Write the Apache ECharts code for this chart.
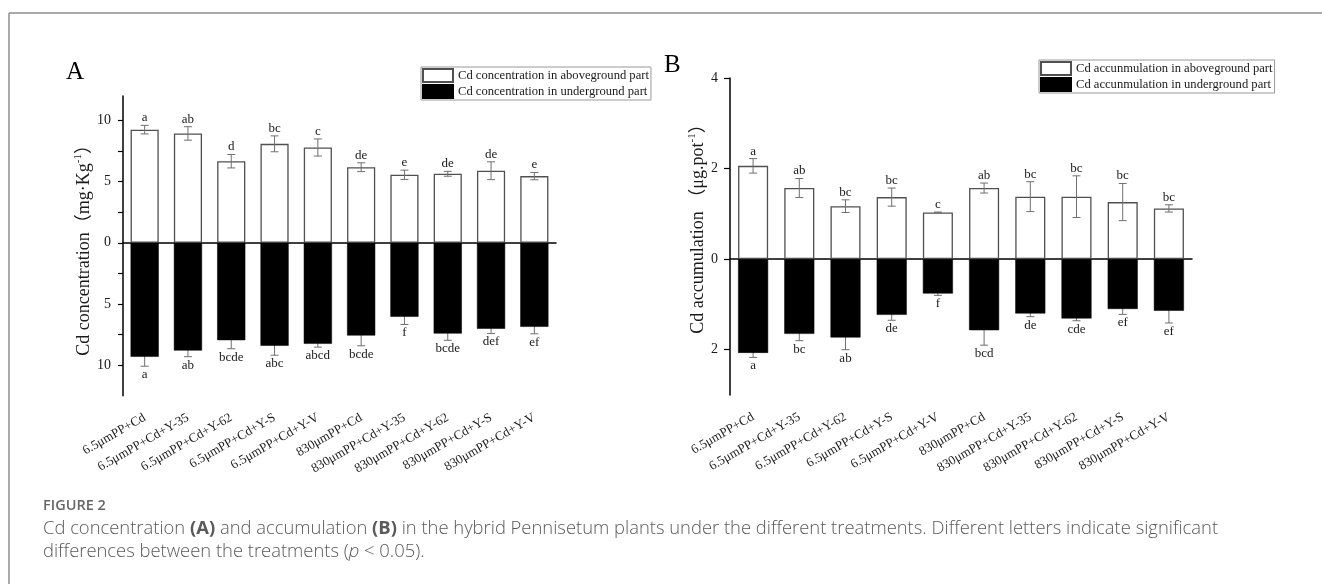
<!DOCTYPE html>
<html><head><meta charset="utf-8">
<script src="https://cdn.jsdelivr.net/npm/echarts@6/dist/echarts.min.js"></script>
<style>html,body{margin:0;padding:0;background:#fff}#c{width:1322px;height:584px}</style>
</head><body><div id="c"></div>
<script>
// ---------- data ----------
const categories = ['6.5μmPP+Cd','6.5μmPP+Cd+Y-35','6.5μmPP+Cd+Y-62','6.5μmPP+Cd+Y-S','6.5μmPP+Cd+Y-V',
                    '830μmPP+Cd','830μmPP+Cd+Y-35','830μmPP+Cd+Y-62','830μmPP+Cd+Y-S','830μmPP+Cd+Y-V'];
const concAbove = [9.25, 8.94, 6.67, 8.09, 7.79, 6.18, 5.56, 5.64, 5.89, 5.45];
const concAboveErr = [0.35, 0.55, 0.55, 0.65, 0.70, 0.36, 0.38, 0.20, 0.73, 0.30];
const concBelow = [9.32, 8.81, 7.96, 8.42, 8.26, 7.58, 6.05, 7.42, 7.03, 6.87];
const concBelowErr = [0.77, 0.50, 0.70, 0.77, 0.27, 0.84, 0.63, 0.55, 0.39, 0.57];
const concAboveLetters = ['a','ab','d','bc','c','de','e','de','de','e'];
const concBelowLetters = ['a','ab','bcde','abc','abcd','bcde','f','bcde','def','ef'];
const accAbove = [2.06, 1.57, 1.17, 1.37, 1.03, 1.57, 1.38, 1.38, 1.26, 1.12];
const accAboveErr = [0.16, 0.21, 0.14, 0.20, 0.01, 0.11, 0.33, 0.46, 0.41, 0.08];
const accBelow = [2.07, 1.65, 1.73, 1.23, 0.76, 1.57, 1.20, 1.31, 1.10, 1.14];
const accBelowErr = [0.10, 0.15, 0.27, 0.12, 0.04, 0.33, 0.07, 0.05, 0.12, 0.27];
const accAboveLetters = ['a','ab','bc','bc','c','ab','bc','bc','bc','bc'];
const accBelowLetters = ['a','bc','ab','de','f','bcd','de','cde','ef','ef'];
const concLabelTicks = [-10, -5, 0, 5, 10];
const concTicks = [-10, -7.5, -5, -2.5, 0, 2.5, 5, 7.5, 10];
const accTicks = [-2, 0, 2, 4];
const legendA = ['Cd concentration in aboveground part', 'Cd concentration in underground part'];
const legendB = ['Cd accunmulation in aboveground part', 'Cd accunmulation in underground part'];

// ---------- helpers ----------
const SERIF = '"Liberation Serif", "Times New Roman", "Noto Sans CJK SC", serif';
const SANS = '"Open Sans", "Noto Sans", sans-serif';
const chart = echarts.init(document.getElementById('c'));

function errSeries(idx, vals, errs, letters, sign, z) {
  return {
    type: 'custom', xAxisIndex: idx, yAxisIndex: idx, z: z, silent: true,
    data: vals.map((v, i) => [i, sign * v, errs[i]]),
    renderItem: function (params, api) {
      const i = api.value(0), v = api.value(1), e = api.value(2);
      const pOut = api.coord([i, v + sign * e]);
      const pIn = api.coord([i, v - sign * e]);
      const x = pOut[0];
      const cap = 4;
      const st = { stroke: '#707070', lineWidth: 1 };
      return {
        type: 'group',
        children: [
          { type: 'line', shape: { x1: x, y1: pOut[1], x2: x, y2: pIn[1] }, style: st },
          { type: 'line', shape: { x1: x - cap, y1: pOut[1], x2: x + cap, y2: pOut[1] }, style: st },
          { type: 'line', shape: { x1: x - cap, y1: pIn[1], x2: x + cap, y2: pIn[1] }, style: st },
          { type: 'text', x: x, y: pOut[1] + (sign > 0 ? -1 : 2),
            style: { text: letters[params.dataIndex], align: 'center',
                     verticalAlign: sign > 0 ? 'bottom' : 'top',
                     font: '13px ' + SERIF, fill: '#1a1a1a' } }
        ]
      };
    }
  };
}

function xAxisCfg(idx) {
  return {
    type: 'category', gridIndex: idx, data: categories, boundaryGap: true,
    axisLine: { lineStyle: { color: '#000', width: 1.5 } },
    axisTick: { alignWithLabel: true, length: 6, lineStyle: { color: '#000', width: 1.2 } },
    axisLabel: { rotate: 30, margin: 21, interval: 0, fontFamily: SERIF, fontSize: 13, color: '#1a1a1a' },
    splitLine: { show: false }
  };
}

const nameRich = {
  a: { fontFamily: SERIF, fontSize: 18, color: '#1a1a1a', lineHeight: 22 },
  s: { fontFamily: SERIF, fontSize: 11, color: '#1a1a1a', lineHeight: 12, verticalAlign: 'top' }
};

const legendCommon = {
  orient: 'vertical', itemWidth: 30, itemHeight: 13, itemGap: 1, icon: 'rect',
  padding: [1, 2, 1, 1], borderColor: '#999', borderWidth: 1, backgroundColor: '#fff',
  textStyle: { fontFamily: SERIF, fontSize: 12.6, color: '#1a1a1a' }
};

const capRich = {
  n: { fontFamily: SANS, fontSize: 18.4, fontWeight: 300, fill: '#5a5a5a' },
  b: { fontFamily: SANS, fontSize: 18.4, fontWeight: 700, fill: '#5a5a5a' },
  i: { fontFamily: SANS, fontSize: 18.4, fontWeight: 300, fontStyle: 'italic', fill: '#5a5a5a' }
};

const option = {
  animation: false,
  backgroundColor: '#fff',
  grid: [
    { left: 123, top: 96, width: 433, height: 299.7 },
    { left: 730, top: 78, width: 462, height: 317 }
  ],
  xAxis: [xAxisCfg(0), xAxisCfg(1)],
  yAxis: [
    { type: 'value', gridIndex: 0, position: 'left', min: -12.5, max: 12,
      axisLine: { show: true, lineStyle: { color: '#000', width: 1.5 } },
      axisTick: { show: true, customValues: concTicks, length: 5, lineStyle: { color: '#000', width: 1.2 } },
      axisLabel: { customValues: concLabelTicks, margin: 12, fontFamily: SERIF, fontSize: 14, color: '#1a1a1a',
                   formatter: v => String(Math.abs(v)) },
      splitLine: { show: false },
      name: '{a|Cd concentration（mg·Kg}{s|-1}{a|）}', nameLocation: 'middle', nameGap: 20,
      nameTextStyle: { rich: nameRich } },
    { type: 'value', gridIndex: 1, position: 'left', min: -3, max: 4,
      axisLine: { show: true, lineStyle: { color: '#000', width: 1.5 } },
      axisTick: { show: true, customValues: accTicks, length: 6, lineStyle: { color: '#000', width: 1.2 } },
      axisLabel: { customValues: accTicks, margin: 12, fontFamily: SERIF, fontSize: 14, color: '#1a1a1a',
                   formatter: v => String(Math.abs(v)) },
      splitLine: { show: false },
      name: '{a|Cd accumulation （μg.pot}{s|-1}{a|）}', nameLocation: 'middle', nameGap: 17,
      nameTextStyle: { rich: nameRich, padding: [0, 0, 0, 24] } }
  ],
  legend: [
    Object.assign({}, legendCommon, { left: 421, top: 67, data: legendA }),
    Object.assign({}, legendCommon, { left: 1039, top: 60, data: legendB })
  ],
  series: [
    { name: legendA[0], type: 'bar', xAxisIndex: 0, yAxisIndex: 0, data: concAbove, barWidth: '65%', barGap: '-100%', z: 2,
      itemStyle: { color: '#fff', borderColor: '#505050', borderWidth: 1.3 } },
    { name: legendA[1], type: 'bar', xAxisIndex: 0, yAxisIndex: 0, data: concBelow.map(v => -v), barWidth: '65%', barGap: '-100%', z: 2,
      itemStyle: { color: '#000', borderColor: '#000', borderWidth: 0.5 } },
    errSeries(0, concAbove, concAboveErr, concAboveLetters, 1, 3),
    errSeries(0, concBelow, concBelowErr, concBelowLetters, -1, 1),
    { name: legendB[0], type: 'bar', xAxisIndex: 1, yAxisIndex: 1, data: accAbove, barWidth: '65%', barGap: '-100%', z: 2,
      itemStyle: { color: '#fff', borderColor: '#505050', borderWidth: 1.3 } },
    { name: legendB[1], type: 'bar', xAxisIndex: 1, yAxisIndex: 1, data: accBelow.map(v => -v), barWidth: '65%', barGap: '-100%', z: 2,
      itemStyle: { color: '#000', borderColor: '#000', borderWidth: 0.5 } },
    errSeries(1, accAbove, accAboveErr, accAboveLetters, 1, 3),
    errSeries(1, accBelow, accBelowErr, accBelowLetters, -1, 1)
  ],
  graphic: [
    { type: 'line', shape: { x1: 9, y1: 13, x2: 1322, y2: 13 }, style: { stroke: '#8c8c8c', lineWidth: 1.5 } },
    { type: 'line', shape: { x1: 9, y1: 13, x2: 9, y2: 584 }, style: { stroke: '#8c8c8c', lineWidth: 1.5 } },
    { type: 'text', x: 66, y: 72, style: { text: 'A', font: '25px ' + SERIF, fill: '#000', verticalAlign: 'middle' } },
    { type: 'text', x: 664, y: 65, style: { text: 'B', font: '25px ' + SERIF, fill: '#000', verticalAlign: 'middle' } },
    { type: 'text', x: 43, y: 506, style: { text: 'FIGURE 2', font: '600 14.5px ' + SANS, fill: '#666', verticalAlign: 'middle' } },
    { type: 'text', x: 43, y: 529, style: {
        text: '{n|Cd concentration }{b|(A)}{n| and accumulation }{b|(B)}{n| in the hybrid Pennisetum plants under the different treatments. Different letters indicate significant}',
        verticalAlign: 'middle', rich: capRich } },
    { type: 'text', x: 43, y: 552, style: {
        text: '{n|differences between the treatments (}{i|p}{n| < 0.05).}',
        verticalAlign: 'middle', rich: capRich } }
  ]
};
chart.setOption(option);
</script>
</body></html>
